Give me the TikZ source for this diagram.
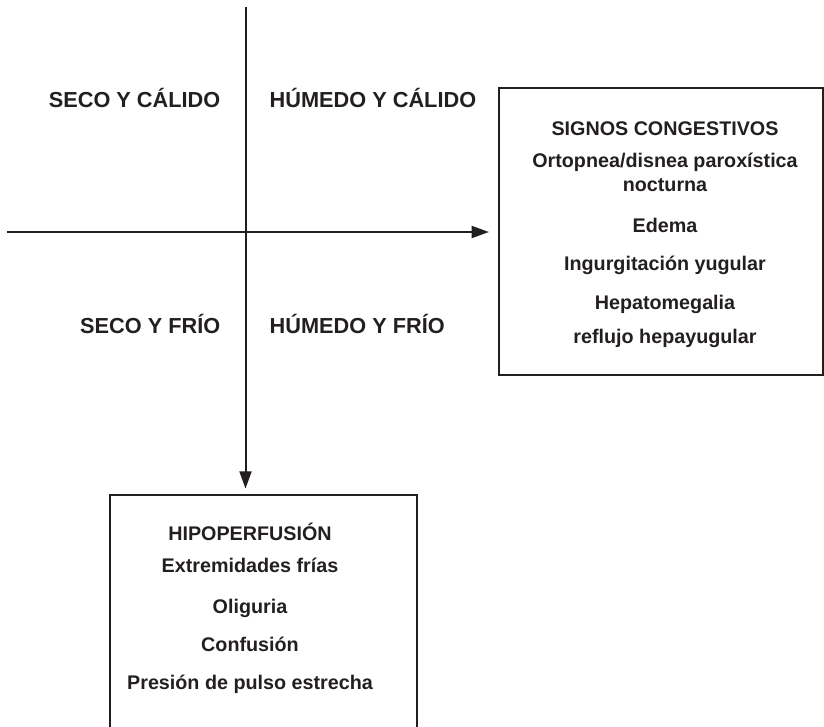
\documentclass[tikz,border=0pt]{standalone}
\usepackage{fontspec}
\setmainfont{Liberation Sans}
\usepackage{tikz}
\usetikzlibrary{arrows.meta}
\definecolor{tinta}{HTML}{231F20}

\begin{document}
\begin{tikzpicture}[x=0.75pt,y=-0.75pt,
  eje/.style={line width=1.5pt,draw=tinta,-{Triangle[length=13pt,width=9pt]}},
  caja/.style={draw=tinta,line width=1.6pt,inner sep=0pt},
  cuad/.style={text=tinta,font=\fontsize{16.3}{19}\selectfont\bfseries},
  item/.style={text=tinta,font=\fontsize{14.8}{17}\selectfont\bfseries,anchor=base}]
\useasboundingbox (0,0) rectangle (824,726);
\clip (0,0) rectangle (824,726);
% cajas
\node[caja,minimum width=243pt,minimum height=215.25pt] (sig) at (661,231.5) {};
\node[caja,minimum width=230.25pt,minimum height=228.75pt] (hipo) at (263.5,647.5) {};
% ejes
\coordinate (izq) at (7,232);
\coordinate (arr) at (245.5,7);
\draw[eje,shorten >=6.75pt] (izq) -- (izq -| sig.west);
\draw[eje,shorten >=4pt] (arr) -- (arr |- hipo.north);
% cuadrantes
\node[cuad,anchor=base east] (sc) at (225,107) {SECO Y CÁLIDO};
\node[cuad,anchor=base west] (hc) at (265,107) {HÚMEDO Y CÁLIDO};
\node[cuad,anchor=base east] (sf) at (225,333) {SECO Y FRÍO};
\node[cuad,anchor=base west] (hf) at (265,333) {HÚMEDO Y FRÍO};
% signos congestivos
\node[item] (s1) at (665,135) {SIGNOS CONGESTIVOS};
\node[item] (s2) at (665,167) {Ortopnea/disnea paroxística};
\node[item] (s3) at (665,191) {nocturna};
\node[item] (s4) at (665,232) {Edema};
\node[item] (s5) at (665,270) {Ingurgitación yugular};
\node[item] (s6) at (665,309) {Hepatomegalia};
\node[item] (s7) at (665,343) {reflujo hepayugular};
% hipoperfusion
\node[item] (h1) at (250,540) {HIPOPERFUSIÓN};
\node[item] (h2) at (250,572) {Extremidades frías};
\node[item] (h3) at (250,613) {Oliguria};
\node[item] (h4) at (250,651) {Confusión};
\node[item] (h5) at (250,689) {Presión de pulso estrecha};
\end{tikzpicture}
\end{document}
